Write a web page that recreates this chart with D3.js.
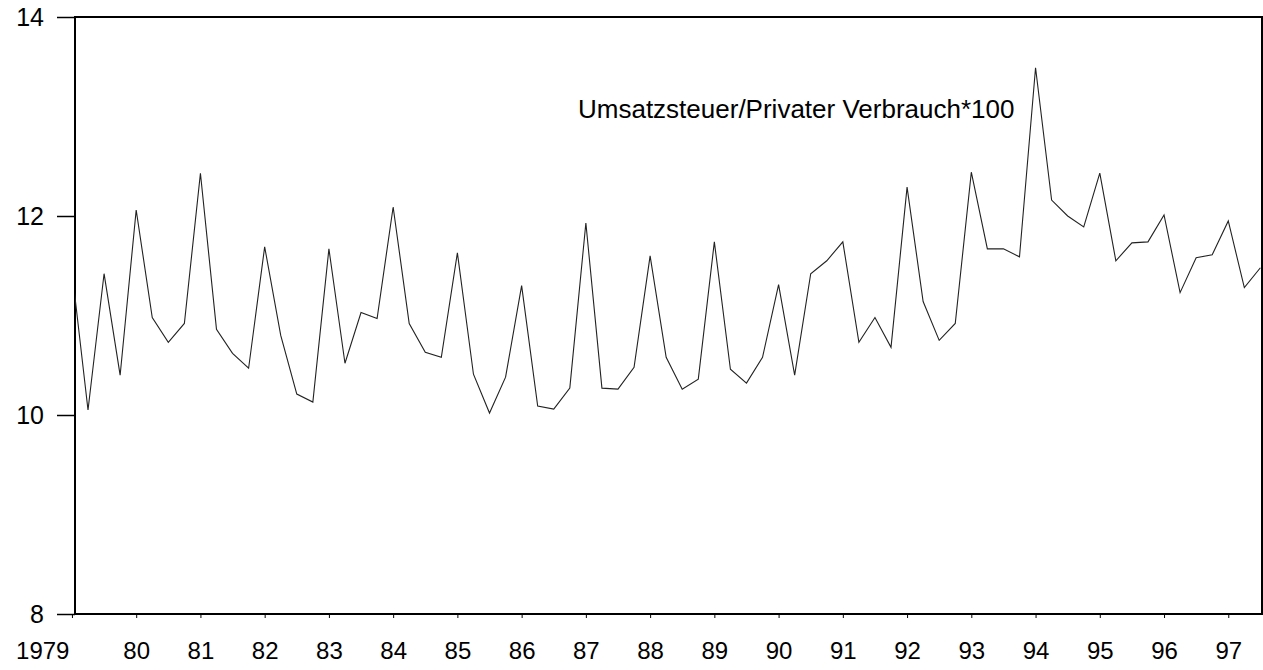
<!DOCTYPE html>
<html>
<head>
<meta charset="utf-8">
<script src="https://cdn.jsdelivr.net/npm/d3@7"></script>
<style>
  html, body { margin: 0; padding: 0; background: #fff; }
  svg { display: block; }
  text { font-family: "Liberation Sans", Arial, Helvetica, sans-serif; fill: #000; }
</style>
</head>
<body>
<svg id="chart" width="1263" height="670"></svg>
<script>
// Quarterly values 1979Q1 .. 1997Q3 (Umsatzsteuer / Privater Verbrauch * 100)
const values = [
  11.45, 10.05, 11.42, 10.40,
  12.06, 10.98, 10.73, 10.92,
  12.43, 10.86, 10.62, 10.47,
  11.69, 10.80, 10.21, 10.13,
  11.67, 10.52, 11.03, 10.97,
  12.09, 10.92, 10.63, 10.58,
  11.63, 10.41, 10.02, 10.38,
  11.30, 10.09, 10.06, 10.27,
  11.93, 10.27, 10.26, 10.48,
  11.60, 10.58, 10.26, 10.36,
  11.74, 10.46, 10.32, 10.58,
  11.31, 10.40, 11.42, 11.55,
  11.74, 10.73, 10.98, 10.68,
  12.29, 11.14, 10.75, 10.92,
  12.44, 11.67, 11.67, 11.59,
  13.49, 12.16, 12.00, 11.89,
  12.43, 11.55, 11.73, 11.74,
  12.01, 11.23, 11.58, 11.61,
  11.95, 11.28, 11.48
];
const yearLabels = ["1979","80","81","82","83","84","85","86","87","88","89","90","91","92","93","94","95","96","97"];
const yTicks = [8, 10, 12, 14];
const seriesLabel = "Umsatzsteuer/Privater Verbrauch*100";

const svg = d3.select("#chart");
const mLeft = 75, mRight = 1262, mTop = 17, mBottom = 614;

const x = d3.scaleLinear().domain([0.19, 74.1]).range([mLeft, mRight]);
const y = d3.scaleLinear().domain([8, 14]).range([mBottom, mTop]);

svg.append("clipPath").attr("id", "plotclip")
  .append("rect").attr("x", mLeft).attr("y", mTop).attr("width", mRight - mLeft).attr("height", mBottom - mTop);

// Y axis
const yAxis = d3.axisLeft(y).tickValues(yTicks).tickSize(18).tickPadding(13).tickFormat(d3.format("d"));
const gy = svg.append("g").attr("transform", `translate(${mLeft},0)`).call(yAxis);
gy.select(".domain").remove();
gy.selectAll(".tick line").attr("stroke", "#000").attr("stroke-width", 1.5);
gy.selectAll(".tick text").attr("font-size", 25).attr("fill", "#000")
  .attr("font-family", '"Liberation Sans", Arial, sans-serif');

// X axis (year labels at Q1 of each year)
const yearPos = yearLabels.map((d, i) => i * 4);
const xAxis = d3.axisBottom(x).tickValues(yearPos).tickSize(4).tickPadding(24)
  .tickFormat((d, i) => yearLabels[i]);
const gx = svg.append("g").attr("transform", `translate(0,${mBottom})`).call(xAxis);
gx.select(".domain").remove();
gx.selectAll(".tick line").attr("stroke", "#000").attr("stroke-width", 1);
gx.selectAll(".tick text").attr("font-size", 24).attr("fill", "#000")
  .attr("font-family", '"Liberation Sans", Arial, sans-serif');
// first label "1979" sits left of the axis corner
gx.selectAll(".tick text").filter((d, i) => i === 0).attr("text-anchor", "end").attr("dx", -3);

// Frame
svg.append("rect").attr("x", mLeft).attr("y", mTop).attr("width", mRight - mLeft).attr("height", mBottom - mTop)
  .attr("fill", "none").attr("stroke", "#000").attr("stroke-width", 2);

// Series line
const line = d3.line().x((d, i) => x(i)).y(d => y(d));
svg.append("path").datum(values)
  .attr("clip-path", "url(#plotclip)")
  .attr("d", line)
  .attr("fill", "none")
  .attr("stroke", "#222")
  .attr("stroke-width", 1.1)
  .attr("stroke-linejoin", "miter");

// Annotation
svg.append("text").attr("x", 578).attr("y", 118).attr("font-size", 26).text(seriesLabel);
</script>
</body>
</html>
